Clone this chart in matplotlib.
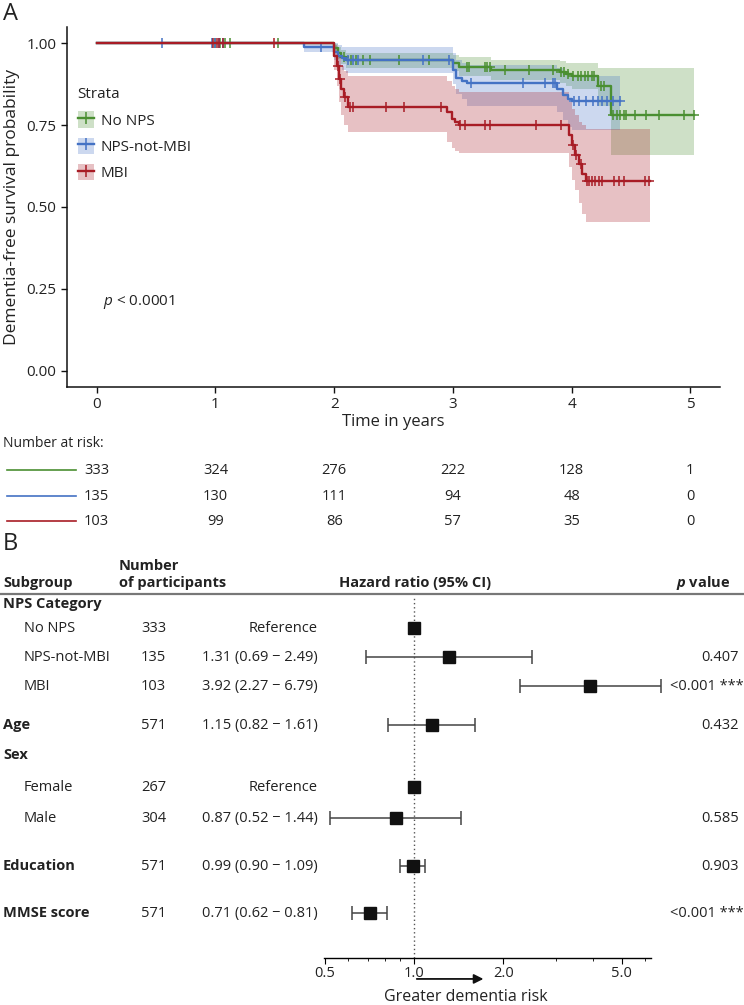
import matplotlib
matplotlib.use("Agg")
import matplotlib.pyplot as plt
import matplotlib.transforms as mtransforms
from matplotlib.patches import Patch
from matplotlib.lines import Line2D
import numpy as np

plt.rcParams["font.family"] = ["Open Sans", "DejaVu Sans"]
plt.rcParams["mathtext.fontset"] = "custom"
plt.rcParams["mathtext.rm"] = "Open Sans"
plt.rcParams["mathtext.it"] = "Open Sans:italic"
plt.rcParams["mathtext.bf"] = "Open Sans:bold"
plt.rcParams["mathtext.bfit"] = "Open Sans:italic:bold"

# ---- Panel A: Kaplan-Meier data ----
green_t = [0, 2.0, 2.03, 2.06, 2.1, 3.0, 3.05, 3.32, 3.9, 3.95, 4.0, 4.22, 4.33]
green_s = [1.0, 0.985, 0.97, 0.958, 0.948, 0.94, 0.928, 0.918, 0.912, 0.905, 0.9, 0.87, 0.78]
green_hi = [1.0, 0.998, 0.99, 0.98, 0.972, 0.965, 0.957, 0.95, 0.945, 0.94, 0.94, 0.925, 0.924]
green_lo = [1.0, 0.972, 0.952, 0.937, 0.925, 0.915, 0.9, 0.888, 0.88, 0.87, 0.862, 0.81, 0.66]
green_end = 5.03
green_cens = [1.0, 1.04, 1.08, 1.12, 1.53, 2.08, 2.14, 2.18, 2.24, 2.3, 2.55, 2.8,
              3.12, 3.14, 3.27, 3.29, 3.31, 3.44, 3.64, 3.84, 3.91, 3.94, 3.97,
              4.01, 4.05, 4.08, 4.11, 4.14, 4.17, 4.19, 4.25, 4.27, 4.35, 4.38,
              4.41, 4.44, 4.46, 4.53, 4.63, 4.74, 4.95, 5.03]

blue_t = [0, 1.75, 2.0, 2.03, 2.07, 2.1, 3.0, 3.03, 3.08, 3.12, 3.88, 3.93, 3.97, 4.0]
blue_s = [1.0, 0.99, 0.975, 0.962, 0.955, 0.948, 0.92, 0.895, 0.885, 0.878, 0.86, 0.842, 0.83, 0.823]
blue_hi = [1.0, 1.0, 1.0, 0.995, 0.99, 0.988, 0.97, 0.95, 0.94, 0.935, 0.925, 0.91, 0.905, 0.9]
blue_lo = [1.0, 0.973, 0.948, 0.93, 0.92, 0.91, 0.875, 0.845, 0.83, 0.81, 0.79, 0.765, 0.745, 0.735]
blue_end = 4.41
blue_cens = [0.55, 0.97, 1.0, 1.03, 1.06, 1.89, 2.12, 2.16, 2.2, 2.75, 2.97, 3.15,
             3.59, 3.78, 3.84, 3.86, 4.02, 4.06, 4.12, 4.18, 4.22, 4.26, 4.3,
             4.35, 4.41]

red_t = [0, 2.0, 2.02, 2.04, 2.06, 2.08, 2.12, 2.95, 2.99, 3.02, 3.05, 3.98, 4.0,
         4.03, 4.06, 4.09, 4.12]
red_s = [1.0, 0.96, 0.93, 0.89, 0.86, 0.835, 0.805, 0.79, 0.77, 0.76, 0.75, 0.72,
         0.69, 0.66, 0.63, 0.60, 0.579]
red_hi = [1.0, 0.995, 0.98, 0.955, 0.93, 0.915, 0.90, 0.885, 0.87, 0.86, 0.85, 0.82,
          0.8, 0.78, 0.76, 0.75, 0.738]
red_lo = [1.0, 0.92, 0.87, 0.82, 0.78, 0.75, 0.73, 0.70, 0.68, 0.67, 0.665, 0.622,
          0.582, 0.552, 0.512, 0.48, 0.454]
red_end = 4.66
red_cens = [0.98, 1.01, 1.03, 1.06, 1.49, 2.03, 2.05, 2.09, 2.13, 2.16, 2.44, 2.59,
            2.9, 3.06, 3.1, 3.27, 3.31, 3.7, 3.91, 4.01, 4.04, 4.08, 4.13, 4.15,
            4.17, 4.2, 4.23, 4.26, 4.36, 4.4, 4.44, 4.62, 4.65]

strata = ["No NPS", "NPS-not-MBI", "MBI"]
risk_times = [0, 1, 2, 3, 4, 5]
risk_green = [333, 324, 276, 222, 128, 1]
risk_blue = [135, 130, 111, 94, 48, 0]
risk_red = [103, 99, 86, 57, 35, 0]

# ---- Panel B: hazard ratios ----
fp_labels = ["NPS Category", "No NPS", "NPS-not-MBI", "MBI", "Age", "Sex",
             "Female", "Male", "Education", "MMSE score"]
fp_header = [True, False, False, False, True, True, False, False, True, True]
fp_n = ["", "333", "135", "103", "571", "", "267", "304", "571", "571"]
fp_ref = [False, True, False, False, False, False, True, False, False, False]
fp_hr = [np.nan, 1.0, 1.31, 3.92, 1.15, np.nan, 1.0, 0.87, 0.99, 0.71]
fp_lo = [np.nan, np.nan, 0.69, 2.27, 0.82, np.nan, np.nan, 0.52, 0.90, 0.62]
fp_hi = [np.nan, np.nan, 2.49, 6.79, 1.61, np.nan, np.nan, 1.44, 1.09, 0.81]
fp_p = ["", "", "0.407", "<0.001 ***", "0.432", "", "", "0.585", "0.903", "<0.001 ***"]

GREEN = "#4a8f31"
BLUE = "#4472c4"
RED = "#a81c25"
TXT = "#222222"

W, H = 744, 1005
fig = plt.figure(figsize=(W / 100, H / 100), dpi=100)


def px_axes(left, top, right, bottom):
    return fig.add_axes([left / W, 1 - bottom / H, (right - left) / W, (bottom - top) / H])


# layout axes in pixel coordinates for free text
lay = fig.add_axes([0, 0, 1, 1])
lay.set_xlim(0, W)
lay.set_ylim(H, 0)
lay.axis("off")

ax = px_axes(67, 27, 720, 387)
ax.set_xlim(-0.25, 5.25)
ax.set_ylim(-0.05, 1.05)
ax.set_facecolor("none")

groups = [
    (green_t, green_s, green_lo, green_hi, green_end, green_cens, GREEN),
    (blue_t, blue_s, blue_lo, blue_hi, blue_end, blue_cens, BLUE),
    (red_t, red_s, red_lo, red_hi, red_end, red_cens, RED),
]

for t, s, lo, hi, end, cens, col in groups:
    tt = np.r_[t, end]
    ax.fill_between(tt, np.r_[lo, lo[-1]], np.r_[hi, hi[-1]], step="post",
                    color=col, alpha=0.27, lw=0)

for t, s, lo, hi, end, cens, col in groups:
    tt = np.r_[t, end]
    ss = np.r_[s, s[-1]]
    ax.step(tt, ss, where="post", color=col, lw=1.7)
    idx = np.searchsorted(np.asarray(t), np.asarray(cens), side="right") - 1
    ax.plot(cens, np.asarray(s)[idx], "+", color=col, ms=7.5, mew=1.1, ls="none")

for sp in ["top", "right"]:
    ax.spines[sp].set_visible(False)
for sp in ["left", "bottom"]:
    ax.spines[sp].set_linewidth(1.1)
    ax.spines[sp].set_color("#111111")
ax.set_xticks(risk_times)
ax.set_yticks([0, 0.25, 0.5, 0.75, 1.0])
ax.set_yticklabels(["0.00", "0.25", "0.50", "0.75", "1.00"])
ax.tick_params(labelsize=11, colors="#111111", labelcolor=TXT, length=4, width=1)
ax.set_xlabel("Time in years", fontsize=12, color=TXT, labelpad=1)
ax.set_ylabel("Dementia-free survival probability", fontsize=12.5, color=TXT, labelpad=5)
ax.text(0.05, 0.2, "$p$ < 0.0001", fontsize=11, color=TXT, transform=ax.transData)

handles = [(Patch(facecolor=c, alpha=0.27, lw=0),
            Line2D([], [], color=c, lw=1.7, marker="+", ms=9, mew=1.1))
           for c in [GREEN, BLUE, RED]]
leg = ax.legend(handles, strata, loc="upper left", bbox_to_anchor=(0.0, 0.862),
                frameon=False, title="Strata", alignment="left", fontsize=11,
                title_fontsize=11, handlelength=1.05, handleheight=1.3,
                labelspacing=0.58, handletextpad=0.45, borderaxespad=0.3)
for txt in leg.get_texts():
    txt.set_color(TXT)
leg.get_title().set_color(TXT)

# panel letters
lay.text(3, 14, "A", fontsize=17, color=TXT, va="center")
lay.text(3, 544, "B", fontsize=17, color=TXT, va="center")

# number at risk table
lay.text(3, 443, "Number at risk:", fontsize=10, color=TXT, va="center")
bt = mtransforms.blended_transform_factory(ax.transData, lay.transData)
for yy, vals, col in zip([470, 496, 521], [risk_green, risk_blue, risk_red], [GREEN, BLUE, RED]):
    lay.plot([7, 76], [yy, yy], color=col, lw=1.2)
    for tx, v in zip(risk_times, vals):
        lay.text(tx, yy, str(v), transform=bt, ha="center", va="center",
                 fontsize=10.5, color=TXT)

# ---- Panel B ----
FS = 10.5
lay.text(119, 566, "Number", fontsize=FS, fontweight="bold", color=TXT, va="center")
lay.text(3, 583, "Subgroup", fontsize=FS, fontweight="bold", color=TXT, va="center")
lay.text(119, 583, "of participants", fontsize=FS, fontweight="bold", color=TXT, va="center")
lay.text(415, 583, "Hazard ratio (95% CI)", fontsize=FS, fontweight="bold", color=TXT,
         va="center", ha="center")
lay.text(730, 583, r"$\mathbfit{p}$ value", fontsize=FS, fontweight="bold", color=TXT,
         va="center", ha="right")
lay.plot([0, W], [594, 594], color="#777777", lw=1.6)

row_y = [604, 628, 657, 686, 725, 755, 787, 818, 866, 913]
for i, lab in enumerate(fp_labels):
    y = row_y[i]
    lay.text(3 if fp_header[i] else 24, y, lab, fontsize=FS, color=TXT, va="center",
             fontweight="bold" if fp_header[i] else "normal")
    if fp_n[i]:
        lay.text(141, y, fp_n[i], fontsize=FS, color=TXT, va="center")
    if fp_ref[i]:
        lay.text(318, y, "Reference", fontsize=FS, color=TXT, va="center", ha="right")
    elif not np.isnan(fp_hr[i]):
        est = f"{fp_hr[i]:.2f} ({fp_lo[i]:.2f} \u2212 {fp_hi[i]:.2f})"
        lay.text(318, y, est, fontsize=FS, color=TXT, va="center", ha="right")
    if fp_p[i]:
        if "***" in fp_p[i]:
            lay.text(670, y, fp_p[i], fontsize=FS, color=TXT, va="center", ha="left")
        else:
            lay.text(739, y, fp_p[i], fontsize=FS, color=TXT, va="center", ha="right")

# forest axes: x is log HR, y equals pixel rows
fa = px_axes(300, 597, 680, 958)
fa.set_xscale("log")
fa.set_xlim(10 ** (-114 / 297), 10 ** (266 / 297))
fa.set_ylim(958, 597)
fa.set_facecolor("none")
for sp in ["top", "right", "left"]:
    fa.spines[sp].set_visible(False)
fa.spines["bottom"].set_bounds(0.497, 6.3)
fa.spines["bottom"].set_linewidth(1.0)
fa.set_yticks([])
fa.set_xticks([0.5, 1.0, 2.0, 5.0])
fa.set_xticklabels(["0.5", "1.0", "2.0", "5.0"])
fa.set_xticks([0.6, 0.7, 0.8, 0.9, 3, 4, 6], minor=True)
fa.xaxis.set_minor_formatter(matplotlib.ticker.NullFormatter())
fa.tick_params(axis="x", which="major", labelsize=10.5, length=4, pad=2, labelcolor=TXT)
fa.tick_params(axis="x", which="minor", length=2.5)

fa.axvline(1.0, ymin=0, ymax=1, color="#555555", lw=1, ls=(0, (1, 2)))

hr = np.array(fp_hr)
lo = np.array(fp_lo)
hi = np.array(fp_hi)
ys = np.array(row_y, dtype=float)
ci = ~np.isnan(lo)
fa.errorbar(hr[ci], ys[ci], xerr=[hr[ci] - lo[ci], hi[ci] - hr[ci]], fmt="none",
            ecolor="#444444", elinewidth=1.1, capsize=5, capthick=1.1, clip_on=False)
pt = ~np.isnan(hr)
fa.plot(hr[pt], ys[pt], "s", color="#111111", ms=8.8, ls="none", clip_on=False, zorder=5)

fa.annotate("", xy=(1.75, -0.058), xytext=(1.0, -0.058),
            xycoords=fa.get_xaxis_transform(), textcoords=fa.get_xaxis_transform(),
            arrowprops=dict(arrowstyle="-|>", color="#111111", lw=1.3, mutation_scale=14))
lay.text(466, 997, "Greater dementia risk", fontsize=11.5, color=TXT, ha="center", va="center")

fig.savefig("out.png", dpi=100)
